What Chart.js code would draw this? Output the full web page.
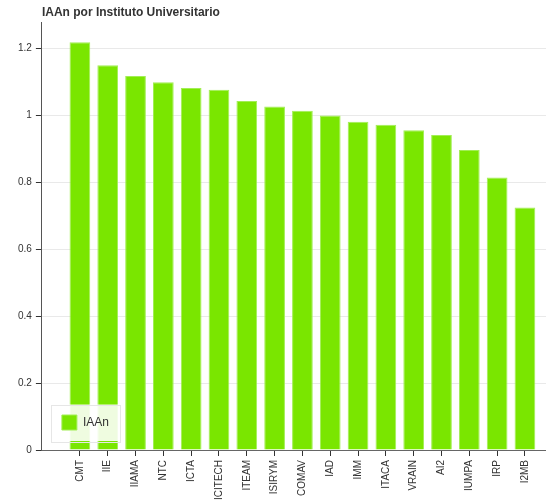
<!DOCTYPE html>
<html>
<head>
<meta charset="utf-8">
<script src="https://cdn.jsdelivr.net/npm/chart.js@4/dist/chart.umd.min.js"></script>
<style>
  html, body { margin: 0; padding: 0; background: #ffffff; }
  #wrap { width: 546px; height: 504px; }
</style>
</head>
<body>
<div id="wrap"><canvas id="c" width="546" height="504"></canvas></div>
<script>
const chartTitle = 'IAAn por Instituto Universitario';
const seriesName = 'IAAn';
const categories = ['CMT', 'IIE', 'IIAMA', 'NTC', 'ICTA', 'ICITECH', 'ITEAM', 'ISIRYM', 'COMAV', 'IAD', 'IMM', 'ITACA', 'VRAIN', 'AI2', 'IUMPA', 'IRP', 'I2MB'];
const values = [1.218, 1.149, 1.117, 1.098, 1.081, 1.076, 1.042, 1.026, 1.013, 0.999, 0.980, 0.971, 0.955, 0.941, 0.896, 0.814, 0.724];
const yTicks = [0, 0.2, 0.4, 0.6, 0.8, 1, 1.2];

Chart.defaults.font.family = "'Liberation Sans', Arial, Helvetica, sans-serif";
Chart.defaults.color = '#333';

const layoutPlugin = {
  id: 'layoutTweaks',
  beforeLayout(chart) {
    const lg = chart.legend;
    if (lg) {
      lg._layers = function () { return [{ z: 5, draw: (ca) => lg.draw(ca) }]; };
    }
  },
  afterLayout(chart) {
    const ca = chart.chartArea;
    if (chart.titleBlock) chart.titleBlock.left = ca.left;
    const lg = chart.legend;
    if (lg) {
      lg.left = ca.left; lg.right = ca.right; lg.top = ca.top; lg.bottom = ca.bottom;
      lg.width = ca.right - ca.left; lg.height = ca.bottom - ca.top;
    }
  },
  afterDatasetsDraw(chart) {
    const lg = chart.legend;
    if (!lg || !lg.legendHitBoxes || !lg.legendHitBoxes.length) return;
    const hb = lg.legendHitBoxes[0];
    const ctx = chart.ctx;
    const x0 = hb.left - 10.5, y0 = hb.top - 10.5;
    const w = hb.width + 21.5, h = hb.height + 21.5;
    ctx.save();
    ctx.fillStyle = 'rgba(255,255,255,0.88)';
    ctx.fillRect(x0, y0, w, h);
    ctx.strokeStyle = '#e6e6e6';
    ctx.lineWidth = 1;
    ctx.strokeRect(Math.round(x0) + 0.5, Math.round(y0) + 0.5, Math.round(w), Math.round(h));
    ctx.restore();
  }
};

new Chart(document.getElementById('c'), {
  type: 'bar',
  data: {
    datasets: [{
      label: seriesName,
      data: values.map((v, i) => ({ x: i, y: v })),
      backgroundColor: '#7ae600',
      borderColor: '#a2ee55',
      borderWidth: 1,
      categoryPercentage: 1,
      barPercentage: 0.745
    }]
  },
  options: {
    responsive: false,
    animation: false,
    events: [],
    layout: { padding: { left: 14, right: 0, top: 0, bottom: 0 } },
    plugins: {
      title: {
        display: true,
        text: chartTitle,
        align: 'start',
        color: '#333',
        font: { size: 12, weight: 'bold' },
        padding: { top: 5, bottom: 3 }
      },
      legend: {
        display: true,
        position: 'chartArea',
        align: 'end',
        labels: {
          boxWidth: 15,
          boxHeight: 15,
          padding: 20,
          color: '#333',
          font: { size: 12 }
        }
      },
      tooltip: { enabled: false }
    },
    scales: {
      x: {
        type: 'linear',
        min: -1.366,
        max: 16.757,
        offset: false,
        afterBuildTicks: (s) => { s.ticks = categories.map((c, i) => ({ value: i })); },
        ticks: {
          autoSkip: false,
          minRotation: 90,
          maxRotation: 90,
          padding: 4,
          color: '#333',
          font: { size: 10 },
          callback: (v) => categories[v] !== undefined ? categories[v] : ''
        },
        grid: {
          offset: false,
          drawOnChartArea: false,
          drawTicks: true,
          tickLength: 6,
          tickColor: '#333'
        },
        border: { display: true, color: '#666', width: 1 }
      },
      y: {
        type: 'linear',
        min: 0,
        max: 1.277,
        afterBuildTicks: (s) => { s.ticks = yTicks.map(v => ({ value: v })); },
        ticks: {
          padding: 4,
          color: '#333',
          font: { size: 10 },
          callback: (v) => String(v)
        },
        grid: {
          color: (ctx) => (ctx.tick && ctx.tick.value === 0) ? 'rgba(0,0,0,0)' : '#e9e9e9',
          tickColor: '#333',
          tickLength: 6,
          drawTicks: true
        },
        border: { display: true, color: '#555', width: 1 }
      }
    }
  },
  plugins: [layoutPlugin]
});
</script>
</body>
</html>
